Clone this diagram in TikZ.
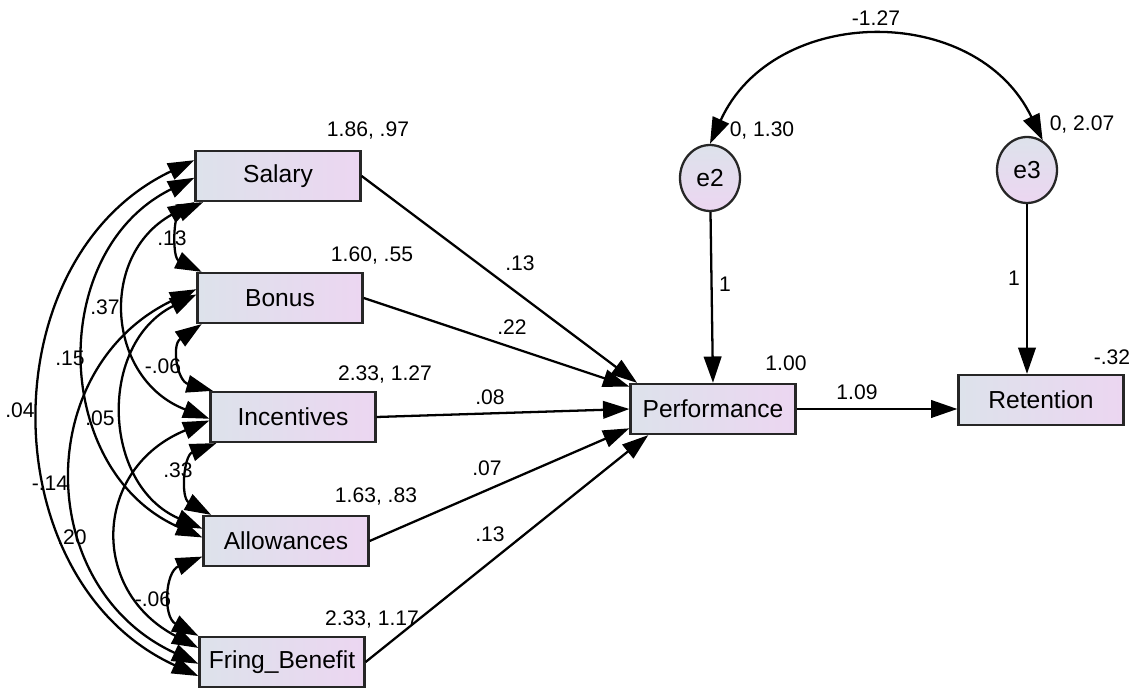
\documentclass[tikz,border=0pt]{standalone}
\usepackage{fontspec}
\setmainfont{Liberation Sans}
\usetikzlibrary{positioning, arrows.meta, shapes.geometric}

\definecolor{boxLeft}{RGB}{221,226,235}
\definecolor{boxRight}{RGB}{236,214,241}

\tikzstyle{obsBox} = [
    rectangle,
    draw=black!85,
    line width=1.3pt,
    left color=boxLeft,
    right color=boxRight,
    minimum width=3.3 cm,
    minimum height=1 cm,
    font=\fontsize{14}{16}\selectfont
    ]
\tikzstyle{errCircle} = [
    ellipse,
    draw=black!85,
    line width=1.3pt,
    top color=boxLeft,
    bottom color=boxRight,
    minimum width=1.2 cm,
    minimum height=1.32 cm,
    inner sep=0pt,
    font=\fontsize{14}{16}\selectfont
    ]
\tikzstyle{val} = [font=\fontsize{12}{14}\selectfont, inner sep=1pt]
\tikzstyle{path} = [->, line width=1.3pt]
\tikzstyle{cov} = [<->, line width=1.3pt, bend right=65]

\begin{document}
\begin{tikzpicture}[x=0.02cm, y=-0.02cm, >={Triangle[length=15pt,width=10pt]}]
      \useasboundingbox (0,0) rectangle (1137,688);
      % observed variables
      \node[obsBox] at (278,176) (sal) {Salary};
      \node[obsBox] at (280,298) (bon) {Bonus};
      \node[obsBox] at (293,417) (inc) {Incentives};
      \node[obsBox] at (286,541) (all) {Allowances};
      \node[obsBox] at (282,662) (fri) {Fring\_Benefit};
      \node[obsBox] at (713,409) (perf) {Performance};
      \node[obsBox] at (1041,400) (ret) {Retention};
      % errors
      \node[errCircle] at (710,178) (e2) {e2};
      \node[errCircle] at (1027,170) (e3) {e3};

      % regression paths
      \draw[path] (sal.east) -- (perf.161);
      \draw[path] (bon.east) -- (perf.165);
      \draw[path] (inc.east) -- (perf.west);
      \draw[path] (all.east) -- (perf.193);
      \draw[path] (fri.east) -- (perf.202);
      \draw[path] (perf.east) -- (perf.east -| ret.west);
      \draw[path] (e2) -- (perf.north);
      \draw[path] (e3) -- (e3 |- ret.north);

      % covariances
      \draw[cov, looseness=1.2] ([xshift=5pt]sal.south west) to ([xshift=3pt]bon.north west);
      \draw[cov, looseness=1.4] ([xshift=3pt]bon.south west) to ([xshift=2pt]inc.north west);
      \draw[cov, looseness=1.25] ([xshift=4pt]inc.south west) to ([xshift=5pt]all.north west);
      \draw[cov, looseness=1.3] ([yshift=6pt]all.south west) to (fri.north west);
      \draw[cov, looseness=1.3] (sal.south west) to ([yshift=-1pt]inc.west);
      \draw[cov, looseness=1.2] ([yshift=2pt]bon.west) to ([yshift=7pt]all.west);
      \draw[cov, looseness=1.4] ([yshift=-2pt]inc.west) to ([yshift=8pt]fri.west);
      \draw[cov, looseness=1.17] ([yshift=-1pt]sal.west) to ([yshift=2pt]all.west);
      \draw[cov, looseness=1.24] ([yshift=5pt]bon.west) to ([yshift=-1pt]fri.west);
      \draw[cov, looseness=1.13] ([yshift=9pt]sal.west) to ([yshift=-8pt]fri.west);
      \draw[<->, line width=1.3pt, bend left=65, looseness=1.18] (e2.north) to (e3.62);

      % estimates
      \node[val] at (368,130) (mSal) {1.86, .97};
      \node[val] at (372,255) (mBon) {1.60, .55};
      \node[val] at (385,374) (mInc) {2.33, 1.27};
      \node[val] at (376,496) (mAll) {1.63, .83};
      \node[val] at (372,619) (mFri) {2.33, 1.17};
      \node[val] at (786,363) (rPerf) {1.00};
      \node[val] at (1112,357) (rRet) {-.32};
      \node[val] at (520,263) (wSal) {.13};
      \node[val] at (512,327) (wBon) {.22};
      \node[val] at (490,397) (wInc) {.08};
      \node[val] at (487,468) (wAll) {.07};
      \node[val] at (490,534) (wFri) {.13};
      \node[val] at (857,392) (wPerf) {1.09};
      \node[val] at (725,284) (wE2) {1};
      \node[val] at (1014,278) (wE3) {1};
      \node[val] at (876,18) (cE) {-1.27};
      \node[val] at (762,130) (vE2) {0, 1.30};
      \node[val] at (1082,124) (vE3) {0, 2.07};
      \node[val] at (172,238) (cSB) {.13};
      \node[val] at (105,307) (cSI) {.37};
      \node[val] at (70,358) (cSA) {.15};
      \node[val] at (20,410) (cSF) {.04};
      \node[val] at (100,418) (cBA) {.05};
      \node[val] at (163,366) (cBI) {-.06};
      \node[val] at (178,470) (cIA) {.33};
      \node[val] at (50,483) (cBF) {-.14};
      \node[val] at (72,537) (cIF) {.20};
      \node[val] at (153,599) (cAF) {-.06};
    \end{tikzpicture}
\end{document}
